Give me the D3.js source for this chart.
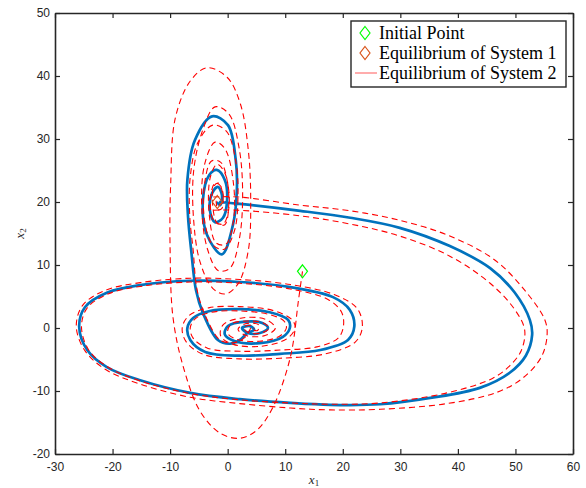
<!DOCTYPE html>
<html>
<head>
<meta charset="utf-8">
<script src="https://cdn.jsdelivr.net/npm/d3@7"></script>
<style>
  body { margin: 0; background: #fff; }
  .tick text { font-family: "Liberation Sans", Arial, sans-serif; font-size: 12px; fill: #262626; }
  .legend text { font-family: "Liberation Serif", "Times New Roman", serif; font-size: 18px; fill: #000; }
  .axisLabel { font-family: "Liberation Serif", serif; font-style: italic; font-size: 13px; fill: #262626; }
</style>
</head>
<body>
<div id="chart"></div>
<script>
// Axis ticks
const xTicks = [-30, -20, -10, 0, 10, 20, 30, 40, 50, 60];
const yTicks = [-20, -10, 0, 10, 20, 30, 40, 50];

// Markers
const initialPoint = [13, 9];
const equilibrium1 = [-1.8, 20];
const equilibrium2 = [4, 0];

// Solid trajectory (x1, x2)
const blueTraj = [
  [-1.5, 20.0], [2.1, 19.7], [12.6, 18.6], [21.3, 17.5], [29.9, 15.9], [38.6, 13.0], [45.6, 9.5],
  [49.9, 5.6], [52.5, 1.3], [52.9, -1.1], [51.8, -4.4], [49.0, -7.1],
  [43.8, -9.5], [35.2, -11.1], [26.5, -12.1], [17.8, -12.2], [10.9, -11.9], [2.1, -11.3],
  [-6.5, -10.3], [-15.2, -8.3], [-21.0, -6.2], [-24.4, -3.5], [-25.8, 0.2], [-24.8, 3.3],
  [-21.0, 5.6], [-15.2, 6.8], [-6.5, 7.5], [2.1, 7.3], [10.9, 6.5], [18.3, 4.9], [21.2, 2.9],
  [22.0, 0.2], [20.9, -1.9], [16.1, -3.5], [9.1, -4.1], [2.1, -4.4], [-3.9, -3.8], [-6.5, -1.9],
  [-7.0, 0], [-6.0, 1.6], [-3.1, 2.7], [2.1, 3.0], [7.3, 2.5], [10.5, 1.3], [10.8, 0], [9.6, -1.4],
  [5.6, -2.4], [1.3, -2.1], [-0.5, -1.0], [0.05, 0.3], [3.0, 1.0], [6.0, 0.8], [7.0, 0],
  [5.6, -0.8], [3.5, -0.8], [2.5, 0], [3.9, 0.3], [4.6, -0.3], [3.4, -0.8], [2.1, -1.9],
  [0.4, -2.5], [-1.7, -1.9], [-4.3, 2.4], [-5.5, 6.0], [-6.3, 12.0], [-6.9, 17.9], [-7.0, 23.5],
  [-5.7, 29.8], [-2.7, 33.6], [0.05, 32.2], [1.4, 26.7], [1.6, 21.9], [0.9, 16.3], [-1.0, 11.7],
  [-3.6, 14.8], [-4.3, 20.3], [-3.2, 24.3], [-1.9, 25.1], [-0.5, 23.5], [-0.1, 20.3], [-0.8, 17.5],
  [-2.2, 16.8], [-3.1, 18.7], [-2.7, 21.4], [-1.7, 22.4], [-1.0, 21.1], [-1.3, 19.5], [-1.9, 20.0]
];

// Dashed trajectories
const redTraj1 = [
  [13, 9], [12.3, 4.4], [10.9, -4.6], [7.9, -12.5], [5.1, -16.2], [2.1, -17.5], [-1.3, -16.7],
  [-4.8, -13.2], [-7.7, -6.2], [-9.5, 1.7], [-10.0, 12.4], [-9.9, 22.9], [-9.1, 33.3], [-6.5, 39.2],
  [-3.6, 41.3], [-0.1, 39.8], [2.2, 35.6], [3.6, 28.1], [4.0, 20.3], [3.6, 12.4], [1.8, 7.0],
  [-0.4, 5.4], [-2.6, 6.3], [-4.8, 10.5], [-5.9, 17], [-5.9, 25], [-4.3, 31.5], [-2.2, 35.1],
  [0.2, 34], [2.0, 28.5], [2.6, 21], [2.0, 14], [0.4, 9.5], [-1.6, 9.1], [-3.5, 12.5], [-4.5, 19],
  [-4, 26], [-2.2, 29.5], [-0.5, 28.5], [1.0, 23], [1.0, 17], [-0.3, 13.3], [-2.0, 13.5],
  [-3.2, 18], [-3, 24], [-1.8, 26], [-0.4, 24.4], [0.2, 20], [-0.5, 16.4], [-1.8, 16.6],
  [-2.6, 19.5], [-2.4, 22.5], [-1.6, 23], [-0.9, 21.5], [-1, 19], [-1.7, 18.8], [-2, 20.2]
];
const redTraj2 = [
  [-2.5, 20.8], [1.8, 20.8], [12.6, 19.5], [21.3, 18.6], [29.9, 17.1], [38.6, 14.6], [46.4, 10.8],
  [51.6, 6.0], [55.1, 1.3], [55.5, -1.1], [54.5, -4.6], [51.2, -8.0],
  [46.8, -10.2], [38.1, -12.0], [26.5, -12.9], [17.8, -13.0], [10.9, -12.7], [2.1, -12.0],
  [-6.5, -11.0], [-15.2, -8.9], [-21.2, -6.6], [-24.8, -3.6], [-26.3, 0.2], [-25.2, 3.6],
  [-21.2, 6.0], [-15.2, 7.2], [-6.5, 7.9], [2.1, 7.7], [10.9, 6.9], [18.5, 5.3], [22.5, 3.1],
  [23.4, 0.2], [22.2, -2.2], [17, -4.1], [9.1, -4.8], [2.1, -4.9], [-4.2, -4.2], [-7.2, -2.2],
  [-7.9, 0], [-6.8, 1.9], [-3.3, 3.2], [2.1, 3.4], [7.8, 2.8], [11.2, 1.3], [11.7, 0],
  [10.3, -1.7], [5.8, -2.9], [1.0, -2.6], [-1.2, -1.3], [-0.8, 0.5], [2.5, 1.6], [6.5, 1.4],
  [8.3, 0], [6.5, -1.2], [3.2, -1.2], [1.8, -0.2], [3.2, 0.7], [5.4, 0.5], [5.2, -0.4], [4, -0.2]
];
const redTraj3 = [
  [-2.5, 18.7], [1.8, 18.7], [12.6, 17.8], [21.3, 16.5], [29.9, 14.6], [38.6, 11.4], [45.6, 7.1],
  [49.9, 2.9], [51.6, -0.3], [51.0, -3.6], [49.0, -6.0], [46.0, -8.0],
  [38.1, -10.3], [26.5, -11.9], [17.8, -12.1], [10.9, -11.9], [2.1, -11.4], [-6.5, -10.4],
  [-15.2, -8.4], [-21, -6.1], [-24.2, -3.4], [-25.4, 0.2], [-24.4, 3.2], [-20.8, 5.4],
  [-15.2, 6.6], [-6.5, 7.3], [2.1, 7.1], [10.9, 6.2], [17.5, 4.5], [19.8, 2.5], [20.1, 0.2],
  [19.2, -1.6], [15.5, -3.0], [9.1, -3.5], [2.1, -3.7], [-3.5, -3.2], [-6, -1.6], [-6.5, 0],
  [-5.6, 1.5], [-2.8, 2.5], [2.1, 2.7], [7, 2.2], [9.8, 1.1], [10.2, 0], [9, -1.3], [5.5, -2.1],
  [1.6, -1.8], [0, -0.8], [0.6, 0.6], [3.5, 1.1], [6.2, 0.8], [7.2, 0], [5.8, -0.8], [3.5, -0.7],
  [2.8, 0.1], [4.3, 0.4], [4.6, -0.1]
];
const redTraj4 = [
  [4, 0], [3, -1.5], [1.2, -2.3], [-1.2, -2.0], [-3.8, 1.8], [-5.3, 6], [-6.0, 12.4], [-6.6, 18],
  [-6.5, 24], [-5.2, 29.4], [-2.6, 32.2], [-0.2, 31.2], [1.4, 26.5], [1.8, 21.5], [1.2, 15.5],
  [-0.6, 12.5], [-2.6, 13.2], [-4, 17], [-4, 23], [-2.8, 26.5], [-1.2, 26.3], [0, 23], [0.2, 19],
  [-0.8, 16.5], [-2.4, 17], [-3, 20.5], [-2.2, 23], [-1.2, 22.5], [-0.8, 20], [-1.6, 19.5]
];
const redTrajs = [redTraj1, redTraj2, redTraj3, redTraj4];

const legendLabels = ["Initial Point", "Equilibrium of System 1", "Equilibrium of System 2"];

const W = 586, H = 488;
const margin = { top: 13, left: 55, right: 13, bottom: 34 };
const width = W - margin.left - margin.right,
  height = H - margin.top - margin.bottom;

const svg = d3.select("#chart").append("svg")
  .attr("width", W).attr("height", H);

const xScale = d3.scaleLinear().domain([-30, 60]).range([0, width]);
const yScale = d3.scaleLinear().domain([-20, 50]).range([height, 0]);

const g = svg.append("g")
  .attr("transform", "translate(" + margin.left + "," + margin.top + ")");

g.append("clipPath").attr("id", "clip")
  .append("rect").attr("width", width).attr("height", height);

const line = d3.line()
  .curve(d3.curveCatmullRom.alpha(0.5))
  .x(d => xScale(d[0]))
  .y(d => yScale(d[1]));

const plot = g.append("g").attr("clip-path", "url(#clip)");

// solid trajectory
plot.append("path")
  .attr("d", line(blueTraj))
  .attr("fill", "none")
  .attr("stroke", "#0072BD")
  .attr("stroke-width", 2.7)
  .attr("stroke-linejoin", "round");

// dashed trajectories
redTrajs.forEach(tr => {
  plot.append("path")
    .attr("d", line(tr))
    .attr("fill", "none")
    .attr("stroke", "#FF0000")
    .attr("stroke-width", 1.1)
    .attr("stroke-dasharray", "6,4");
});

function diamond(sel, cx, cy, w, h, color) {
  sel.append("path")
    .attr("d", `M${cx},${cy - h / 2}L${cx + w / 2},${cy}L${cx},${cy + h / 2}L${cx - w / 2},${cy}Z`)
    .attr("fill", "none")
    .attr("stroke", color)
    .attr("stroke-width", 1.2);
}

diamond(plot, xScale(initialPoint[0]), yScale(initialPoint[1]), 10, 13, "#00FF00");
diamond(plot, xScale(equilibrium1[0]), yScale(equilibrium1[1]), 10, 13, "#D95319");

// axes (MATLAB style box with inward ticks)
const axisColor = "#262626";
const fmt = d => String(d);
function styleAxis(a) {
  a.select(".domain").attr("stroke", axisColor).attr("stroke-width", 1.6);
  a.selectAll(".tick line").attr("stroke", axisColor).attr("stroke-width", 1.2);
}
const xAxis = g.append("g")
  .attr("transform", "translate(0," + height + ")")
  .call(d3.axisBottom(xScale).tickValues(xTicks).tickFormat(fmt).tickSizeInner(-5).tickSizeOuter(0).tickPadding(8));
styleAxis(xAxis);
const yAxis = g.append("g")
  .call(d3.axisLeft(yScale).tickValues(yTicks).tickFormat(fmt).tickSizeInner(-5).tickSizeOuter(0).tickPadding(5));
styleAxis(yAxis);
const xTop = g.append("g")
  .call(d3.axisTop(xScale).tickValues(xTicks).tickSizeInner(-5).tickSizeOuter(0).tickFormat(""));
styleAxis(xTop);
const yRight = g.append("g")
  .attr("transform", "translate(" + width + ",0)")
  .call(d3.axisRight(yScale).tickValues(yTicks).tickSizeInner(-5).tickSizeOuter(0).tickFormat(""));
styleAxis(yRight);

// axis labels
const xl = svg.append("text").attr("class", "axisLabel")
  .attr("x", margin.left + width / 2).attr("y", 484).attr("text-anchor", "middle");
xl.append("tspan").text("x");
xl.append("tspan").attr("font-size", "9px").attr("font-style", "normal").attr("dy", "2").text("1");

const yl = svg.append("text").attr("class", "axisLabel")
  .attr("transform", "translate(24," + (margin.top + height / 2) + ") rotate(-90)")
  .attr("text-anchor", "middle");
yl.append("tspan").text("x");
yl.append("tspan").attr("font-size", "9px").attr("font-style", "normal").attr("dy", "2").text("2");

// legend
const legend = svg.append("g").attr("class", "legend");
legend.append("rect")
  .attr("x", 351).attr("y", 21).attr("width", 215).attr("height", 66)
  .attr("fill", "#fff").attr("stroke", axisColor).attr("stroke-width", 1.4);
const rowY = [33, 53, 73];
legendLabels.forEach((t, i) => {
  legend.append("text").attr("x", 379).attr("y", rowY[i] + 6).text(t);
});
diamond(legend, 365, rowY[0], 10, 13, "#00FF00");
diamond(legend, 365, rowY[1], 10, 13, "#D95319");
legend.append("line")
  .attr("x1", 355).attr("x2", 377).attr("y1", rowY[2]).attr("y2", rowY[2])
  .attr("stroke", "#FF0000").attr("stroke-opacity", 0.55).attr("stroke-width", 1.2);
</script>
</body>
</html>
